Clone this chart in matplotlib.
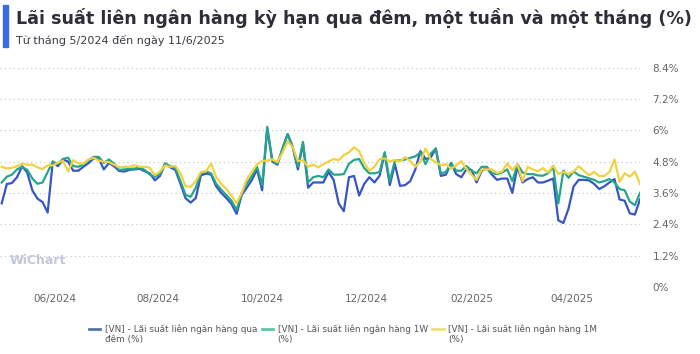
import numpy as np
import pandas as pd
import matplotlib
matplotlib.use("Agg")
import matplotlib.pyplot as plt
import matplotlib.dates as mdates
from matplotlib.ticker import FuncFormatter
from matplotlib.patches import Rectangle

# sampling dates (every 3 days) and values, in %
dates = pd.date_range("2024-05-01", periods=126, freq="3D")

overnight = [
    3.2, 3.94, 3.98, 4.2, 4.62, 4.38, 3.7, 3.38, 3.25, 2.85,
    4.8, 4.62, 4.88, 4.8, 4.45, 4.45, 4.6, 4.74, 4.92, 4.92,
    4.5, 4.75, 4.62, 4.44, 4.42, 4.48, 4.5, 4.53, 4.43, 4.35,
    4.08, 4.25, 4.72, 4.58, 4.48, 3.95, 3.4, 3.23, 3.4, 4.27,
    4.34, 4.3, 3.85, 3.6, 3.4, 3.18, 2.8, 3.52, 3.8, 4.1,
    4.5, 3.7, 6.06, 4.8, 4.68, 5.3, 5.85, 5.35, 4.5, 5.48,
    3.8, 4.0, 4.0, 4.0, 4.4, 4.1, 3.2, 2.9, 4.2, 4.25,
    3.5, 3.95, 4.2, 4.0, 4.26, 5.1, 3.9, 4.7, 3.87, 3.9,
    4.05, 4.5, 5.2, 4.9, 4.95, 5.3, 4.25, 4.3, 4.75, 4.32,
    4.2, 4.5, 4.48, 4.0, 4.45, 4.55, 4.3, 4.1, 4.15, 4.15,
    3.6, 4.6, 4.0, 4.13, 4.2, 4.0, 4.0, 4.07, 4.15, 2.55,
    2.45, 3.0, 3.85, 4.1, 4.1, 4.08, 3.95, 3.75, 3.85, 4.0,
    4.13, 3.35, 3.3, 2.82, 2.77, 3.35,
]

one_week = [
    4.0, 4.22, 4.3, 4.5, 4.6, 4.48, 4.15, 3.95, 4.0, 4.4,
    4.8, 4.7, 4.9, 4.95, 4.63, 4.6, 4.68, 4.85, 4.98, 4.98,
    4.75, 4.88, 4.72, 4.48, 4.5, 4.52, 4.53, 4.58, 4.48, 4.3,
    4.22, 4.32, 4.73, 4.63, 4.55, 4.05, 3.53, 3.45, 3.8, 4.34,
    4.42, 4.35, 3.95, 3.72, 3.52, 3.3, 2.95, 3.6, 3.95, 4.25,
    4.6, 3.9, 6.13, 4.85, 4.72, 5.3, 5.85, 5.35, 4.6, 5.55,
    4.0, 4.2, 4.25, 4.2, 4.5, 4.3, 4.3, 4.32, 4.72, 4.86,
    4.9, 4.55, 4.35, 4.35, 4.4, 5.16, 4.05, 4.84, 4.84, 4.88,
    4.94, 5.0, 5.15, 4.7, 5.1, 5.3, 4.35, 4.4, 4.75, 4.45,
    4.45, 4.63, 4.45, 4.35, 4.6, 4.6, 4.36, 4.32, 4.38, 4.5,
    4.05, 4.7, 4.38, 4.32, 4.32, 4.27, 4.26, 4.35, 4.6, 3.2,
    4.45, 4.18, 4.42, 4.28, 4.22, 4.16, 4.1, 4.0, 4.05, 4.13,
    4.0, 3.75, 3.7, 3.27, 3.13, 3.6,
]

one_month = [
    4.6, 4.54, 4.56, 4.62, 4.72, 4.68, 4.68, 4.58, 4.51, 4.66,
    4.65, 4.76, 4.83, 4.42, 4.85, 4.73, 4.72, 4.88, 4.94, 4.84,
    4.8, 4.78, 4.68, 4.58, 4.6, 4.6, 4.66, 4.6, 4.6, 4.56,
    4.28, 4.42, 4.65, 4.6, 4.63, 4.35, 3.86, 3.83, 4.05, 4.4,
    4.43, 4.72, 4.2, 3.95, 3.75, 3.5, 3.2, 3.6, 4.13, 4.4,
    4.7, 4.82, 4.84, 4.88, 4.78, 5.15, 5.57, 5.35, 4.82, 4.85,
    4.6, 4.68, 4.58, 4.7, 4.8, 4.9, 4.85, 5.05, 5.15, 5.35,
    5.2, 4.75, 4.45, 4.6, 4.9, 4.92, 4.8, 4.86, 4.8, 4.97,
    4.82, 4.6, 4.8, 5.3, 4.9, 4.78, 4.66, 4.7, 4.53, 4.65,
    4.82, 4.52, 4.3, 4.1, 4.5, 4.5, 4.5, 4.36, 4.42, 4.73,
    4.47, 4.7, 4.05, 4.6, 4.5, 4.43, 4.55, 4.38, 4.65, 4.33,
    4.4, 4.33, 4.42, 4.62, 4.45, 4.27, 4.4, 4.25, 4.25, 4.4,
    4.88, 4.02, 4.35, 4.22, 4.42, 3.94,
]

labels = [
    "[VN] - Lãi suất liên ngân hàng qua\nđêm (%)",
    "[VN] - Lãi suất liên ngân hàng 1W\n(%)",
    "[VN] - Lãi suất liên ngân hàng 1M\n(%)",
]
colors = ["#3656c4", "#24a58c", "#f1d23e"]
y_ticks = [0, 1.2, 2.4, 3.6, 4.8, 6, 7.2, 8.4]

plt.rcParams["font.family"] = ["DejaVu Sans"]

fig = plt.figure(figsize=(7, 3.54), dpi=100)
fig.patch.set_facecolor("white")

# title block
fig.patches.append(Rectangle((3 / 700, 1 - 47 / 354), 5 / 700, 42 / 354,
                             transform=fig.transFigure, color="#3b6be0"))
fig.text(16 / 700, 1 - 18 / 354, "Lãi suất liên ngân hàng kỳ hạn qua đêm, một tuần và một tháng (%)",
         fontsize=12.6, fontweight="bold", color="#2e2e38", va="center")
fig.text(16 / 700, 1 - 40 / 354, "Từ tháng 5/2024 đến ngày 11/6/2025",
         fontsize=8, color="#3a3a44", va="center")

ax = fig.add_axes([0, 67 / 354, 640 / 700, 219.5 / 354])
ax.set_facecolor("white")

series = [overnight, one_week, one_month]
lines = []
for vals, col, lab in zip(series, colors, labels):
    ln, = ax.plot(dates, vals, color=col, lw=1.6, label=lab, solid_joinstyle="round")
    lines.append(ln)

ax.set_ylim(0, 8.4)
ax.set_xlim(pd.Timestamp("2024-04-30"), pd.Timestamp("2025-05-11"))
ax.set_yticks(y_ticks)
ax.yaxis.set_major_formatter(FuncFormatter(lambda v, p: f"{v:g}%"))
ax.yaxis.tick_right()
ax.grid(axis="y", linestyle=(0, (1, 2.5)), color="#c8c8c8", lw=0.9)
ax.set_axisbelow(True)
for s in ax.spines.values():
    s.set_visible(False)

ax.xaxis.set_major_locator(mdates.MonthLocator(bymonth=[2, 4, 6, 8, 10, 12]))
ax.xaxis.set_major_formatter(mdates.DateFormatter("%m/%Y"))
ax.tick_params(axis="both", length=0, labelsize=7.5, colors="#666666")
ax.tick_params(axis="y", pad=9)
ax.tick_params(axis="x", pad=5)
for t in ax.get_yticklabels():
    t.set_clip_on(False)

# watermark
ax.text(10 / 640, (287 - 260) / 219.5, "WiChart", transform=ax.transAxes,
        fontsize=9, fontweight="bold", color="#c2c6dc", va="center", ha="left")

leg = fig.legend(handles=lines, loc="center", bbox_to_anchor=(0.49, 20 / 354), ncol=3,
                 frameon=False, fontsize=6.4, handlelength=1.3, handletextpad=0.5,
                 columnspacing=0.5, labelcolor="#555555")
for h, c in zip(leg.legend_handles, ["#5b72b0", "#5cc5a8", "#f0de7a"]):
    h.set_color(c)
    h.set_linewidth(2)
    # put the handle level with the first text line
    yd = h.get_ydata()
    h.set_ydata([v + 4 for v in yd])

fig.savefig("out.png", dpi=100)
